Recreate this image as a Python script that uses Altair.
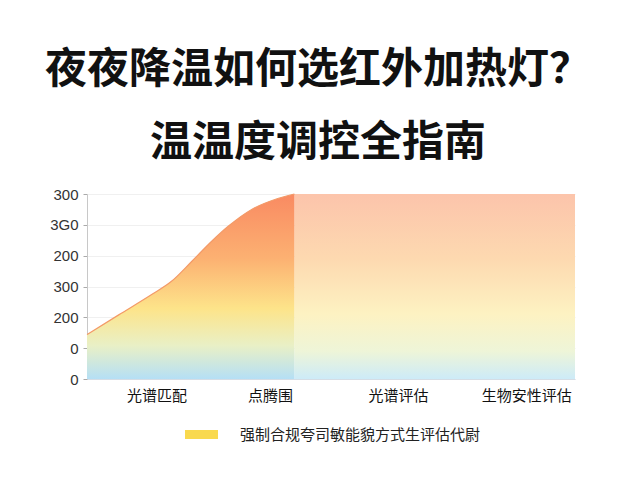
import altair as alt
import pandas as pd

# ---- data ----
title_lines = ["夜夜降温如何选红外加热灯？", "温温度调控全指南"]
categories = ["光谱匹配", "点腾围", "光谱评估", "生物安性评估"]
y_tick_values = [0, 50, 100, 150, 200, 250, 300]
y_tick_labels = ["0", "0", "200", "300", "200", "3G0", "300"]
curve_x = [0, 0.26, 0.53, 0.69, 0.86, 1.02, 1.16, 1.35, 1.54, 1.70]
curve_y = [72, 104, 137, 158, 191, 223, 248, 275, 291, 300]
flat_x = [1.70, 4.0]
flat_y = [300, 300]
legend_label = "强制合规夸司敏能貌方式生评估代尉"

FONT = "Noto Sans CJK SC"

curve_df = pd.DataFrame({"x": curve_x, "y": curve_y})
flat_df = pd.DataFrame({"x": flat_x, "y": flat_y})
legend_df = pd.DataFrame({"x": [0.0], "y": [0.0], "s": [legend_label]})

x_scale = alt.Scale(domain=[0, 4], nice=False, zero=False)
y_scale = alt.Scale(domain=[0, 300], nice=False)

label_js = "[" + ",".join(f"'{l}'" for l in y_tick_labels) + "]"
cat_js = "[" + ",".join(f"'{c}'" for c in categories) + "]"

x_axis = alt.Axis(
    values=[0.57, 1.5, 2.55, 3.6], labelExpr=cat_js + "[floor(datum.value)]",
    title=None, grid=False, ticks=False, domainColor="#d5dde5",
    labelFont=FONT, labelFontSize=15, labelColor="#111", labelPadding=9,
    labelOverlap=False)
y_axis = alt.Axis(
    values=y_tick_values, labelExpr=label_js + "[datum.value/50]",
    title=None, grid=True, gridColor="#f0f0f0", tickSize=4, tickColor="#aaa",
    domainColor="#c8c8c8", labelFont="Liberation Sans", labelFontSize=15,
    labelColor="#333", labelPadding=5, labelOverlap=False)


def xe():
    return alt.X("x:Q", scale=x_scale, axis=x_axis)


def ye():
    return alt.Y("y:Q", scale=y_scale, axis=y_axis)


left_grad = alt.LinearGradient(
    gradient="linear", x1=0, y1=0, x2=0, y2=1,
    stops=[alt.GradientStop(offset=0, color="#f98a62"),
           alt.GradientStop(offset=0.35, color="#fcb172"),
           alt.GradientStop(offset=0.62, color="#fde48a"),
           alt.GradientStop(offset=0.82, color="#e9f0c6"),
           alt.GradientStop(offset=1, color="#b5dff5")])
right_grad = alt.LinearGradient(
    gradient="linear", x1=0, y1=0, x2=0, y2=1,
    stops=[alt.GradientStop(offset=0, color="#fcc4ab"),
           alt.GradientStop(offset=0.35, color="#fdd9b0"),
           alt.GradientStop(offset=0.65, color="#fdf2c2"),
           alt.GradientStop(offset=0.85, color="#eef5d8"),
           alt.GradientStop(offset=1, color="#cdebf8")])

right_area = alt.Chart(flat_df).mark_area(color=right_grad).encode(x=xe(), y=ye())
left_area = alt.Chart(curve_df).mark_area(
    interpolate="monotone", color=left_grad).encode(x=xe(), y=ye())
left_line = alt.Chart(curve_df).mark_line(
    interpolate="monotone", color="#f39a68", strokeWidth=1.2).encode(x=xe(), y=ye())

legend_layer = alt.Chart(legend_df).mark_point(filled=True, opacity=0).encode(
    x=xe(), y=ye(),
    color=alt.Color("s:N", scale=alt.Scale(range=["#f9d94e"]), legend=alt.Legend(
        title=None, orient="none", legendX=98, legendY=224,
        symbolType="M-1,-0.27H1V0.27H-1Z", symbolSize=1089,
        symbolOpacity=1, symbolStrokeWidth=0, symbolFillColor="#f9d94e",
        labelFont=FONT, labelFontSize=15, labelColor="#222", labelOffset=22,
        labelLimit=0)))

chart = alt.layer(right_area, left_area, left_line, legend_layer).properties(
    width=488, height=185,
    padding={"left": 79, "top": 186, "right": 57, "bottom": 93},
    autosize=alt.AutoSizeParams(type="none"),
    title=alt.TitleParams(text=title_lines, font=FONT, fontSize=42,
                          fontWeight="bold", color="#111", anchor="middle",
                          lineHeight=73, dx=-13, offset=22),
).configure_view(stroke=None)

chart.save("out.html", embed_options={"renderer": "svg", "actions": False})
